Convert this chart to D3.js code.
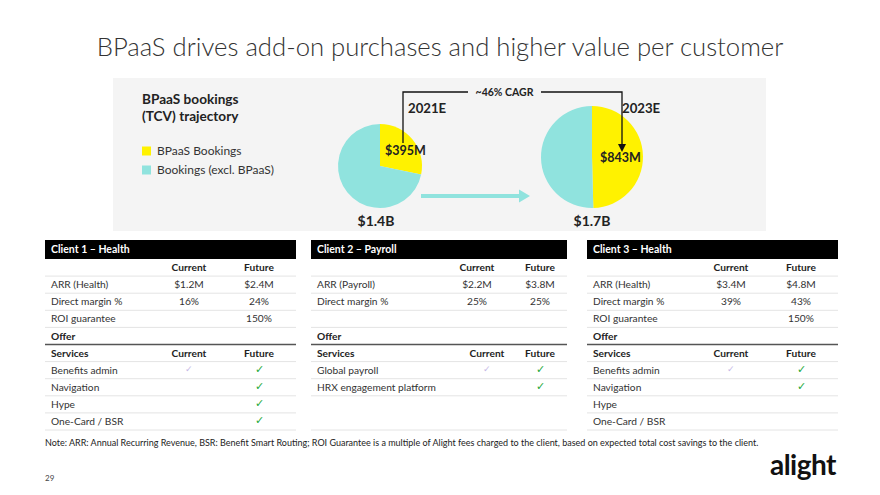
<!DOCTYPE html>
<html><head><meta charset="utf-8">
<script src="https://cdn.jsdelivr.net/npm/d3@7/dist/d3.min.js"></script>
<style>
html,body{margin:0;padding:0;background:#fff;}
svg{display:block;font-family:Lato,"Open Sans",sans-serif;}
</style></head><body>
<svg id="c" width="880" height="495"></svg>
<script>
// ---------- data ----------
const title = "BPaaS drives add-on purchases and higher value per customer";
const pieYears = ["2021E", "2023E"];
const bpaasBookings = [395, 843];            // $M
const totalBookings = [1400, 1700];          // $M
const bpaasLabels = ["$395M", "$843M"];
const totalLabels = ["$1.4B", "$1.7B"];
const legendLabels = ["BPaaS Bookings", "Bookings (excl. BPaaS)"];
const cagrLabel = "~46% CAGR";

const clientTitles = ["Client 1 – Health", "Client 2 – Payroll", "Client 3 – Health"];
const client1Metrics = [["ARR (Health)", "$1.2M", "$2.4M"], ["Direct margin %", "16%", "24%"], ["ROI guarantee", "", "150%"]];
const client2Metrics = [["ARR (Payroll)", "$2.2M", "$3.8M"], ["Direct margin %", "25%", "25%"], ["", "", ""]];
const client3Metrics = [["ARR (Health)", "$3.4M", "$4.8M"], ["Direct margin %", "39%", "43%"], ["ROI guarantee", "", "150%"]];
const client1Services = [["Benefits admin", true, true], ["Navigation", false, true], ["Hype", false, true], ["One-Card / BSR", false, true]];
const client2Services = [["Global payroll", true, true], ["HRX engagement platform", false, true]];
const client3Services = [["Benefits admin", true, true], ["Navigation", false, true], ["Hype", false, false], ["One-Card / BSR", false, false]];
const note = "Note: ARR: Annual Recurring Revenue, BSR: Benefit Smart Routing; ROI Guarantee is a multiple of Alight fees charged to the client, based on expected total cost savings to the client.";
const pageNumber = "29";

// ---------- styles ----------
const YELLOW = "#fff200", TEAL = "#90e3de", INK = "#222", BODY = "#333";
const svg = d3.select("#c");

// title
svg.append("text").attr("x", 440).attr("y", 56).attr("text-anchor", "middle")
  .attr("font-size", 25.7).attr("font-weight", 300).attr("fill", "#333").text(title);

// gray panel
svg.append("rect").attr("x", 113).attr("y", 78).attr("width", 653).attr("height", 153).attr("fill", "#f4f4f4");

// panel heading + legend
const hd = svg.append("text").attr("font-size", 13.6).attr("font-weight", 700).attr("fill", INK);
hd.append("tspan").attr("x", 142).attr("y", 104).text("BPaaS bookings");
hd.append("tspan").attr("x", 142).attr("y", 121).text("(TCV) trajectory");
const legColor = d3.scaleOrdinal().domain(legendLabels).range([YELLOW, TEAL]);
const legY = d3.scalePoint().domain(legendLabels).range([151, 170]);
legendLabels.forEach(l => {
  svg.append("rect").attr("x", 142).attr("y", legY(l) - 4.5).attr("width", 9).attr("height", 9).attr("fill", legColor(l));
  svg.append("text").attr("x", 157).attr("y", legY(l)).attr("dy", "0.35em").attr("font-size", 12).attr("fill", BODY).text(l);
});

// pies
const rScale = d3.scaleLinear().domain([0, 1700]).range([0, 51]);
const pieCx = [380, 592];
const pieBottom = 208;
const pie = d3.pie().sort(null).value(d => d);
const pieData = pieYears.map((y, i) => ({
  year: y, cx: pieCx[i], r: rScale(totalBookings[i]),
  slices: pie([bpaasBookings[i], totalBookings[i] - bpaasBookings[i]])
}));
pieData.forEach((p, i) => {
  p.cy = pieBottom - p.r;
  const g = svg.append("g").attr("transform", `translate(${p.cx},${p.cy})`);
  g.selectAll("path").data(p.slices).join("path")
    .attr("d", d3.arc().innerRadius(0).outerRadius(p.r))
    .attr("fill", (d, j) => j === 0 ? YELLOW : TEAL);
  svg.append("text").attr("x", p.cx + (i === 0 ? 5 : 8)).attr("y", p.cy + (i === 0 ? -11 : 5))
    .attr("font-size", 12.5).attr("font-weight", 700).attr("fill", INK).text(bpaasLabels[i]);
  svg.append("text").attr("x", p.cx - (i === 0 ? 4 : 0)).attr("y", 226).attr("text-anchor", "middle")
    .attr("font-size", 14).attr("font-weight", 700).attr("fill", INK).text(totalLabels[i]);
});
// year labels
svg.append("text").attr("x", 408).attr("y", 113).attr("font-size", 13.2).attr("font-weight", 700).attr("fill", INK).text(pieYears[0]);
svg.append("text").attr("x", 622).attr("y", 113).attr("font-size", 13.2).attr("font-weight", 700).attr("fill", INK).text(pieYears[1]);

// CAGR bracket
const bx1 = 403, bx2 = 622, by = 92;
svg.append("path").attr("d", `M${bx1},143 V${by} H468 M541,${by} H${bx2} V145`)
  .attr("fill", "none").attr("stroke", "#111").attr("stroke-width", 1.3);
svg.append("path").attr("d", `M${bx2 - 4},144 L${bx2 + 4},144 L${bx2},152 Z`).attr("fill", "#111");
svg.append("text").attr("x", 504.5).attr("y", by).attr("dy", "0.35em").attr("text-anchor", "middle")
  .attr("font-size", 10.5).attr("font-weight", 700).attr("fill", INK).text(cagrLabel);

// teal arrow between pies
svg.append("rect").attr("x", 421).attr("y", 194).attr("width", 100).attr("height", 4).attr("fill", TEAL);
svg.append("path").attr("d", "M519,189.5 L530,196 L519,202.5 Z").attr("fill", TEAL);

// ---------- tables ----------
const tables = [
  {x: 45, w: 251, cur: 144, fut: 214, svcCur: 144, metrics: client1Metrics, services: client1Services, skipLines: []},
  {x: 311, w: 256, cur: 166, fut: 229, svcCur: 176, metrics: client2Metrics, services: client2Services, skipLines: [9]},
  {x: 587, w: 251, cur: 144, fut: 214, svcCur: 144, metrics: client3Metrics, services: client3Services, skipLines: []}
];
const headTop = 240, headH = 19;
const rowY = d3.scaleLinear().domain([0, 10]).range([259, 430]); // row boundaries
const rowMid = i => (rowY(i) + rowY(i + 1)) / 2;

tables.forEach((t, ti) => {
  const g = svg.append("g").attr("transform", `translate(${t.x},0)`);
  g.append("rect").attr("x", 0).attr("y", headTop).attr("width", t.w).attr("height", headH).attr("fill", "#000");
  g.append("text").attr("x", 6).attr("y", headTop + headH / 2).attr("dy", "0.35em")
    .attr("font-size", 10.5).attr("font-weight", 700).attr("fill", "#fff").text(clientTitles[ti]);

  for (let k = 1; k <= 10; k++) {
    if (t.skipLines.includes(k)) continue;
    const thick = k === 5;
    g.append("line").attr("x1", 0).attr("x2", t.w).attr("y1", rowY(k)).attr("y2", rowY(k))
      .attr("stroke", thick ? "#555" : "#e4e4e4").attr("stroke-width", thick ? 1.5 : 1);
  }
  const txt = (x, y, s, opts = {}) => g.append("text").attr("x", x).attr("y", y).attr("dy", "0.35em")
    .attr("font-size", opts.size || 10.2).attr("font-weight", opts.bold ? 700 : 400)
    .attr("text-anchor", opts.anchor || "start").attr("fill", opts.color || BODY).text(s);

  txt(t.cur, rowMid(0), "Current", {bold: true, anchor: "middle", color: INK});
  txt(t.fut, rowMid(0), "Future", {bold: true, anchor: "middle", color: INK});
  t.metrics.forEach((m, i) => {
    txt(6, rowMid(i + 1), m[0]);
    txt(t.cur, rowMid(i + 1), m[1], {anchor: "middle"});
    txt(t.fut, rowMid(i + 1), m[2], {anchor: "middle"});
  });
  txt(6, rowMid(4), "Offer", {bold: true, color: INK});
  txt(6, rowMid(5), "Services", {bold: true, color: INK});
  txt(t.svcCur, rowMid(5), "Current", {bold: true, anchor: "middle", color: INK});
  txt(t.fut, rowMid(5), "Future", {bold: true, anchor: "middle", color: INK});
  t.services.forEach((s, i) => {
    txt(6, rowMid(i + 6), s[0]);
    if (s[1]) txt(t.svcCur, rowMid(i + 6) - 1, "✓", {anchor: "middle", size: 9, color: "#c5b8e6"});
    if (s[2]) txt(t.fut, rowMid(i + 6) - 1, "✓", {anchor: "middle", size: 10.5, color: "#1faa3c"});
  });
});

// footer
svg.append("text").attr("x", 45).attr("y", 446).attr("font-size", 9).attr("fill", "#222").text(note);
svg.append("text").attr("x", 45).attr("y", 481).attr("font-size", 8).attr("fill", "#444").text(pageNumber);
svg.append("text").attr("x", 803).attr("y", 475).attr("text-anchor", "middle").attr("font-size", 28)
  .attr("font-weight", 700).attr("fill", "#111").attr("letter-spacing", -0.5).text("alight");
</script>
</body></html>
